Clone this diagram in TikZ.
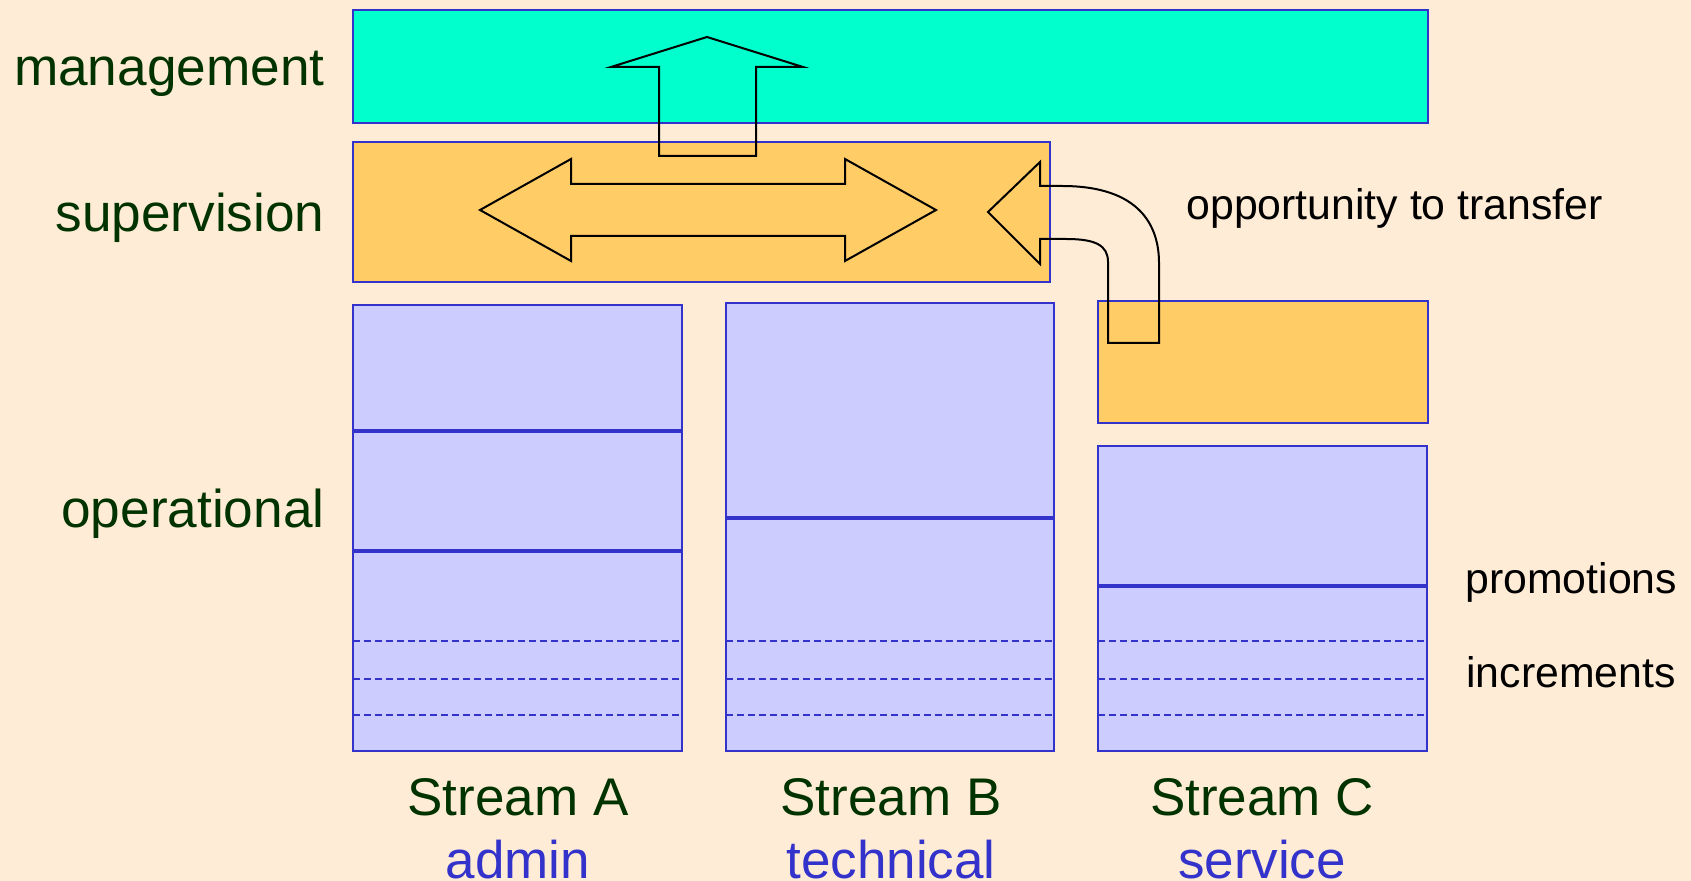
\documentclass[tikz,border=0pt]{standalone}
\usepackage{fontspec}
\setmainfont{Liberation Sans}
\definecolor{bgc}{HTML}{FFECD6}
\definecolor{mgmtc}{HTML}{00FFCC}
\definecolor{orangec}{HTML}{FFCC66}
\definecolor{lavc}{HTML}{CCCCFF}
\definecolor{bluec}{HTML}{3333CC}
\definecolor{greenc}{HTML}{003300}
\tikzset{
  box/.style={draw=bluec, line width=1pt, inner sep=0pt, outer sep=0pt, anchor=north west},
  solidline/.style={draw=bluec, line width=1.9pt},
  dashline/.style={draw=bluec, line width=0.9pt, dash pattern=on 3.5pt off 2pt},
  bigarrow/.style={draw=black, line width=1pt, line join=miter},
  levellabel/.style={anchor=base east, inner sep=0pt, text=greenc, font=\fontsize{26.6pt}{30pt}\selectfont},
  streamlabel/.style={anchor=base, inner sep=0pt, text=greenc, font=\fontsize{26.5pt}{30pt}\selectfont},
  kindlabel/.style={anchor=base, inner sep=0pt, text=bluec, font=\fontsize{26.5pt}{30pt}\selectfont},
  notelabel/.style={anchor=base west, inner sep=0pt, text=black, font=\fontsize{21.4pt}{25pt}\selectfont}
}
\begin{document}
\begin{tikzpicture}[x=0.5pt,y=-0.5pt]
\fill[bgc] (0,0) rectangle (1691,881);
\useasboundingbox (0,0) rectangle (1691,881);
% boxes
\node[box, fill=mgmtc, minimum width=537.5pt, minimum height=56.5pt] (mgmt) at (353,10) {};
\node[box, fill=orangec, minimum width=348.5pt, minimum height=70pt] (sup) at (353,142) {};
\node[box, fill=lavc, minimum width=164.5pt, minimum height=223pt] (A) at (353,305) {};
\node[box, fill=lavc, minimum width=164pt, minimum height=224pt] (B) at (726,303) {};
\node[box, fill=orangec, minimum width=165pt, minimum height=61pt] (Cup) at (1098,301) {};
\node[box, fill=lavc, minimum width=164.5pt, minimum height=152.5pt] (C) at (1098,446) {};
% promotions
\draw[solidline] (A.west |- 0,431) -- (A.east |- 0,431);
\draw[solidline] (A.west |- 0,551) -- (A.east |- 0,551);
\draw[solidline] (B.west |- 0,518) -- (B.east |- 0,518);
\draw[solidline] (C.west |- 0,586) -- (C.east |- 0,586);
% increments
\foreach \yy in {641,679,715}{
  \draw[dashline] (A.west |- 0,\yy) -- (A.east |- 0,\yy);
  \draw[dashline] (B.west |- 0,\yy) -- (B.east |- 0,\yy);
  \draw[dashline] (C.west |- 0,\yy) -- (C.east |- 0,\yy);
}
% up arrow
\draw[bigarrow] (707,37) -- (803,67) -- (756,67) -- (756,156) -- (659,156) -- (659,67) -- (611,67) -- cycle;
% double arrow
\draw[bigarrow] (480,210) -- (571,159) -- (571,184) -- (845,184) -- (845,159) -- (936,210)
  -- (845,261) -- (845,236) -- (571,236) -- (571,261) -- cycle;
% curved transfer arrow
\draw[bigarrow] (988,212) -- (1040,162) -- (1040,186) -- (1062,186)
  .. controls (1140,186) and (1159,226) .. (1159,263) -- (1159,343) -- (1108,343) -- (1108,262)
  .. controls (1108,245) and (1095,239) .. (1066,239) -- (1040,239) -- (1040,264) -- cycle;
% labels
\node[levellabel] (lmgmt) at (325,86) {management};
\node[levellabel] (lsup) at (325,232) {supervision};
\node[levellabel] (lop) at (325,528) {operational};
\node[notelabel] (lopp) at (1186,220) {opportunity to transfer};
\node[notelabel] (lprom) at (1465,593) {promotions};
\node[notelabel] (linc) at (1466,687) {increments};
\node[streamlabel] (sa) at (518,815) {Stream A};
\node[streamlabel] (sb) at (891,815) {Stream B};
\node[streamlabel] (sc) at (1262,815) {Stream C};
\node[kindlabel] (ka) at (518,878) {admin};
\node[kindlabel] (kb) at (891,878) {technical};
\node[kindlabel] (kc) at (1262,878) {service};
\end{tikzpicture}
\end{document}
